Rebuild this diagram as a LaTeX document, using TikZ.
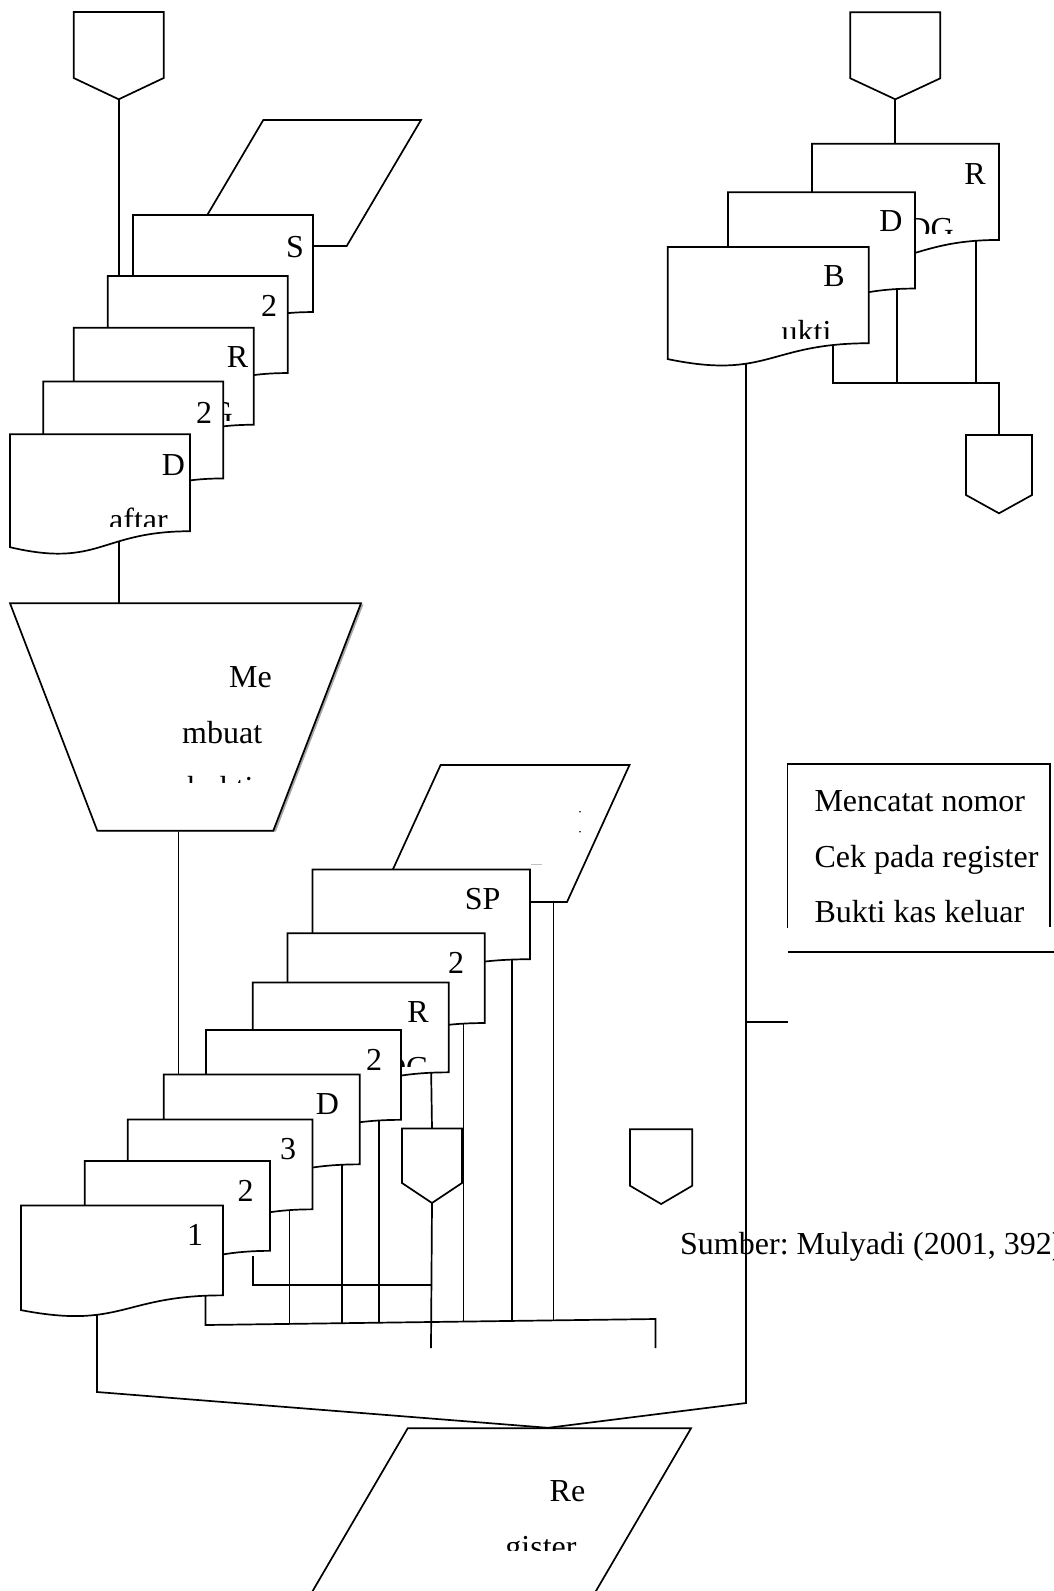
\documentclass[tikz,border=0pt]{standalone}
\usepackage{fontspec}
\setmainfont{Liberation Serif}
\usetikzlibrary{calc}
\pgfdeclarelayer{back}
\pgfsetlayers{back,main}
\frenchspacing

% document symbol: name, left x, top y, width, height
\newcommand\fcdoc[5]{%
  \path[shp] (#2,#3) -- ({#2+#4},#3) -- ({#2+#4},{#3+0.802*#5})
    .. controls ({#2+0.5*#4},{#3+0.802*#5}) and ({#2+0.5*#4},{#3+1.1075*#5})
    .. (#2,{#3+0.934*#5}) -- cycle;
  \coordinate (#1) at (#2,#3);}
% off-page connector: name, left x, right x, top y, side y, tip y
\newcommand\fcoff[6]{%
  \path[shp] (#2,#4) -- (#3,#4) -- (#3,#5) -- ({(#2+#3)/2},#6) -- (#2,#5) -- cycle;
  \coordinate (#1-in) at ({(#2+#3)/2},#4);
  \coordinate (#1-out) at ({(#2+#3)/2},#6);}

\begin{document}
\begin{tikzpicture}[x=1pt,y=-1pt,
  ln/.style={line width=1.7pt},
  shp/.style={draw, line width=1.7pt, fill=white, line join=miter},
  lbl/.style={inner sep=0pt, font=\fontsize{32}{38}\selectfont},
]
\useasboundingbox (0,0) rectangle (1054,1591);
\clip (0,0) rectangle (1054,1591);

% ================= upper left: incoming documents =================
\fcoff{oa}{73.7}{163.7}{12}{78}{99.3}
\path[shp] (263.3,120) -- (421,120) -- (346.7,246) -- (189,246) -- cycle;
\fcdoc{ds}{133}{215}{180}{121}
\node[lbl,anchor=base] (ls) at (295,257) {S};
\fcdoc{d2b}{107.7}{276}{180}{121}
\node[lbl,anchor=base] (l2b) at (269,316) {2};
\fcdoc{dr}{73.7}{327.7}{180}{121}
\begin{scope}
  \clip (73.7,327.7) rectangle (253.7,420.7);
  \node[lbl,anchor=base] (lr) at (237.5,367.5) {R};
  \node[lbl,anchor=base east] (lr2) at (233,423) {DG};
\end{scope}
\fcdoc{d2a}{43.3}{381.4}{180}{121}
\node[lbl,anchor=base] (l2a) at (204,423) {2};
\fcdoc{dd}{10}{434.2}{180}{121}
\begin{scope}
  \clip (10,434.2) rectangle (190,526);
  \node[lbl,anchor=base] (ld) at (173.5,475) {D};
  \node[lbl,anchor=base west] (ld2) at (109,530.5) {aftar};
\end{scope}

% manual operation
\path[fill=gray!70] (12.5,604.3) -- (363.5,604.3) -- (275.8,831.7) -- (99.8,831.7) -- cycle;
\path[shp] (10,603.3) -- (361,603.3) -- (273.3,830.7) -- (97.3,830.7) -- cycle;
\begin{scope}
  \clip (10,603.3) rectangle (361,782.5);
  \node[lbl,anchor=base] (lm1) at (250.5,687.7) {Me};
  \node[lbl,anchor=base] (lm2) at (222.2,743.3) {mbuat};
  \node[lbl,anchor=base] (lm3) at (220.5,798.8) {bukti};
\end{scope}

% ================= lower stack =================
\path[shp] (440.6,765) -- (629.5,765) -- (567,902) -- (378,902) -- cycle;
\fill (580,811.7) circle (0.9);
\fill (580,831.7) circle (0.9);
\fcdoc{dsp}{312.5}{869.4}{217.5}{112}
\draw[gray!50, line width=1pt] (531,864.5) -- (542,864.5);
\node[lbl,anchor=base] (lsp) at (482.6,909.4) {SP};
\fcdoc{d2c}{287.5}{933.2}{197.3}{112}
\node[lbl,anchor=base] (l2c) at (456,973.2) {2};
\fcdoc{drc}{252.7}{982.5}{196}{112}
\begin{scope}
  \clip (252.7,982.5) rectangle (448.7,1066.5);
  \node[lbl,anchor=base] (lrc) at (418,1022.5) {R};
  \node[lbl,anchor=base east] (lrc2) at (429.5,1078) {DG};
\end{scope}
\fcdoc{d2d}{206}{1030}{195}{112}
\node[lbl,anchor=base] (l2d) at (374,1070) {2};
\fcdoc{ddc}{163.8}{1074.5}{196}{112}
\node[lbl,anchor=base] (ldc) at (327.5,1114.5) {D};
\fcdoc{d3}{127.7}{1119.5}{184.8}{112}
\node[lbl,anchor=base] (l3) at (288,1159.5) {3};
\fcdoc{d2e}{84.8}{1161}{185.2}{112}
\node[lbl,anchor=base] (l2e) at (245.5,1201) {2};
\fcdoc{d1}{21}{1205.5}{202}{112}
\node[lbl,anchor=base] (l1) at (195,1245.5) {1};
\fcoff{oe}{402}{462}{1128.5}{1183}{1203}

% ================= upper right =================
\fcoff{ob}{850.3}{940.3}{12.3}{78.3}{99.3}
\fcdoc{dr2}{812}{143.7}{187}{120}
\begin{scope}
  \clip (812,143.7) rectangle (999,233);
  \node[lbl,anchor=base] (lr2b) at (975,184) {R};
  \node[lbl,anchor=base east] (lr2c) at (954,239.5) {DG};
\end{scope}
\fcdoc{dd2}{728}{192.3}{187}{120}
\node[lbl,anchor=base] (ldd2) at (891,231.7) {D};
\fcdoc{db}{667.7}{247}{201}{120}
\begin{scope}
  \clip (667.7,247) rectangle (868.7,338);
  \node[lbl,anchor=base] (lb) at (834,286.7) {B};
  \node[lbl,anchor=base west] (lb2) at (781.5,342.2) {ukti};
\end{scope}
\fcoff{oc}{966}{1032}{435}{495}{513.3}

% annotation box
\draw[ln] (787.5,928) -- (787.5,764.3) -- (1050,764.3) -- (1050,927);
\draw[ln] (787.5,952) -- (1054,952);
\node[lbl,anchor=base west] (n1) at (814.3,811.5) {Mencatat nomor};
\node[lbl,anchor=base west] (n2) at (814.3,867) {Cek pada register};
\node[lbl,anchor=base west] (n3) at (814.3,922.5) {Bukti kas keluar};
\coordinate (bx) at (788,1021.7);

\fcoff{od}{630}{692.3}{1129.3}{1185.7}{1204}
\node[lbl,anchor=base west] (src) at (680,1254) {Sumber: Mulyadi (2001, 392)};

% register
\path[shp] (407.7,1428.3) -- (691,1428.3) -- (579,1620) -- (295.7,1620) -- cycle;
\begin{scope}
  \clip (300,1428.3) rectangle (691,1550.5);
  \node[lbl,anchor=base] (lre) at (567.5,1501.7) {Re};
  \node[lbl,anchor=base] (lre2) at (541,1557) {gister};
\end{scope}
\coordinate (p3-in) at (548,1427.8);

% ================= flow lines =================
\coordinate (ul-in) at (118.7,276);
\coordinate (ul-out) at (118.7,515);
\coordinate (tr-in) at (118.7,603.3);
\coordinate (tr-out) at (178.6,830.7);
\coordinate (ll-in) at (178.6,1074.5);
\coordinate (p2-out) at (553.6,901.6);
\coordinate (sp-out) at (512,949);
\coordinate (c2-out) at (463.5,1013);
\coordinate (rc-out) at (431,1062);
\coordinate (e-end) at (431,1348);
\coordinate (d2d-out) at (379,1110);
\coordinate (dc-out) at (342,1154);
\coordinate (d3-out) at (289.5,1199);
\coordinate (e2-out) at (253,1256);
\coordinate (lk) at (253,1285);
\coordinate (lj) at (431,1285);
\coordinate (d1-out) at (205.5,1285);
\coordinate (hl) at (205.5,1325);
\coordinate (hr) at (655.5,1319);
\coordinate (r-end) at (655.5,1348);
\coordinate (h2) at (289.5,1323.9);
\coordinate (h3) at (342,1323.2);
\coordinate (h4) at (379,1322.7);
\coordinate (h6) at (463.5,1321.6);
\coordinate (h7) at (512,1320.9);
\coordinate (h8) at (553.6,1320.4);
\coordinate (d1-low) at (97,1285);
\coordinate (jl) at (97,1392);
\coordinate (b-low) at (746,330);
\coordinate (jr) at (746,1403);
\coordinate (jb) at (746,1021.7);
\coordinate (ur-in) at (895.3,143.7);
\coordinate (r2-out) at (976,225);
\coordinate (u3) at (976,382.7);
\coordinate (d2-out) at (897,275);
\coordinate (u2) at (897,382.7);
\coordinate (b-out) at (832.7,330);
\coordinate (u1) at (832.7,382.7);
\coordinate (u4) at (999,382.7);

\begin{pgfonlayer}{back}
  \draw[ln] (oa-out) -- (ul-in);
  \draw[ln] (ul-out) -- (tr-in);
  \draw[ln] (tr-out) -- (ll-in);
  \draw[ln] (p2-out) -- (h8);
  \draw[ln] (sp-out) -- (h7);
  \draw[ln] (c2-out) -- (h6);
  \draw[ln] (rc-out) -- (oe-in);
  \draw[ln] (oe-out) -- (e-end);
  \draw[ln] (d2d-out) -- (h4);
  \draw[ln] (dc-out) -- (h3);
  \draw[ln] (d3-out) -- (h2);
  \draw[ln] (e2-out) -- (lk) -- (lj);
  \draw[ln] (d1-out) -- (hl) -- (hr) -- (r-end);
  \draw[ln] (d1-low) -- (jl) -- (p3-in);
  \draw[ln] (b-low) -- (jr) -- (p3-in);
  \draw[ln] (jb) -- (bx);
  \draw[ln] (ob-out) -- (ur-in);
  \draw[ln] (r2-out) -- (u3);
  \draw[ln] (d2-out) -- (u2);
  \draw[ln] (b-out) -- (u1) -- (u4) -- (oc-in);
\end{pgfonlayer}
\end{tikzpicture}
\end{document}
